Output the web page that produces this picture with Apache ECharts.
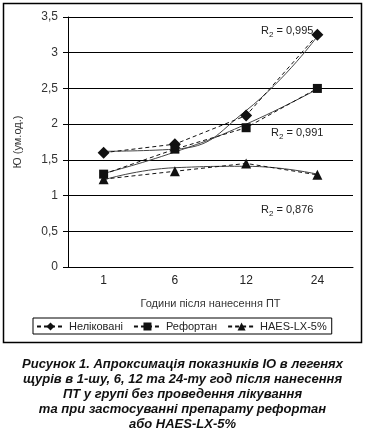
<!DOCTYPE html>
<html><head><meta charset="utf-8">
<script src="https://cdn.jsdelivr.net/npm/echarts@6/dist/echarts.min.js"></script>
<style>html,body{margin:0;padding:0;background:#fff}#c{width:365px;height:428px}</style>
</head><body><div id="c"></div>
<script>
var categories = ['1', '6', '12', '24'];
var untreated = [1.6, 1.72, 2.12, 3.25];
var refortan = [1.3, 1.65, 1.95, 2.5];
var haes = [1.23, 1.34, 1.45, 1.29];
var untreatedTrend = [1.62, 1.65, 2.19, 3.23];
var refortanTrend = [1.31, 1.61, 2.0, 2.49];
var haesTrend = [1.22, 1.39, 1.41, 1.3];
var seriesNames = ['Неліковані', 'Рефортан', 'HAES-LX-5%'];
var r2Labels = ['0,995', '0,991', '0,876'];

var chart = echarts.init(document.getElementById('c'), null, {renderer: 'canvas'});
var font = 'Liberation Sans, Arial, sans-serif';
function dataSeries(name, data, symbol, size) {
  return {name: name, type: 'line', data: data, symbol: symbol, symbolSize: size,
    itemStyle: {color: '#111'}, lineStyle: {color: '#111', width: 1, type: [4, 3]}, z: 5};
}
function trendSeries(data) {
  return {type: 'line', data: data, symbol: 'none', smooth: 0.5, silent: true,
    lineStyle: {color: '#444', width: 1}, z: 3};
}
function r2(x, y, val) {
  return {type: 'text', left: x, top: y, style: {
    text: '{a|R}{b|2}{a| = ' + val + '}',
    rich: {a: {fontSize: 11, fontFamily: font, fill: '#222'}, b: {fontSize: 8, fontFamily: font, fill: '#222', padding: [8, 0, 0, 0]}}
  }};
}
chart.setOption({
  animation: false,
  grid: {left: 68, right: 12, top: 17, bottom: 161},
  xAxis: {type: 'category', data: categories, boundaryGap: true,
    name: 'Години після нанесення ПТ', nameLocation: 'middle', nameGap: 31,
    nameTextStyle: {fontSize: 11, color: '#333', fontFamily: font},
    axisLine: {lineStyle: {color: '#000', width: 1}},
    axisTick: {length: 6, lineStyle: {color: '#000'}},
    axisLabel: {fontSize: 12, color: '#222', fontFamily: font, margin: 8}},
  yAxis: {type: 'value', min: 0, max: 3.5, interval: 0.5,
    name: 'Ю (ум.од.)', nameLocation: 'middle', nameGap: 45,
    nameTextStyle: {fontSize: 11, color: '#333', fontFamily: font},
    axisLine: {show: true, lineStyle: {color: '#000'}},
    axisTick: {show: true, length: 5, lineStyle: {color: '#000'}},
    splitLine: {lineStyle: {color: '#000', width: 1}},
    axisLabel: {fontSize: 12, color: '#333', fontFamily: font, margin: 10,
      formatter: function (v) { return String(v).replace('.', ','); }}},
  legend: {data: seriesNames, left: 33, top: 318, width: 330,
    borderColor: '#000', borderWidth: 1, padding: [3, 5, 2, 3],
    itemWidth: 27, itemHeight: 10, itemGap: 10,
    textStyle: {fontSize: 11, color: '#222', fontFamily: font}},
  graphic: [
    {type: 'rect', shape: {x: 3.5, y: 3.5, width: 358, height: 339}, style: {fill: 'none', stroke: '#000', lineWidth: 1.5}, silent: true},
    r2(261, 25, r2Labels[0]),
    r2(271, 127, r2Labels[1]),
    r2(261, 204, r2Labels[2]),
    {type: 'text', x: 182.5, y: 357, style: {
      text: 'Рисунок 1. Апроксимація показників ІО в легенях\nщурів в 1-шу, 6, 12 та 24-ту год після нанесення\nПТ у групі без проведення лікування\nта при застосуванні препарату рефортан\nабо HAES-LX-5%',
      align: 'center', fontSize: 13, fontWeight: 'bold', fontStyle: 'italic', lineHeight: 15,
      fontFamily: font, fill: '#111'}}
  ],
  series: [
    trendSeries(untreatedTrend), trendSeries(refortanTrend), trendSeries(haesTrend),
    dataSeries(seriesNames[0], untreated, 'diamond', 12),
    dataSeries(seriesNames[1], refortan, 'rect', 9),
    dataSeries(seriesNames[2], haes, 'triangle', 10)
  ]
});
</script></body></html>
